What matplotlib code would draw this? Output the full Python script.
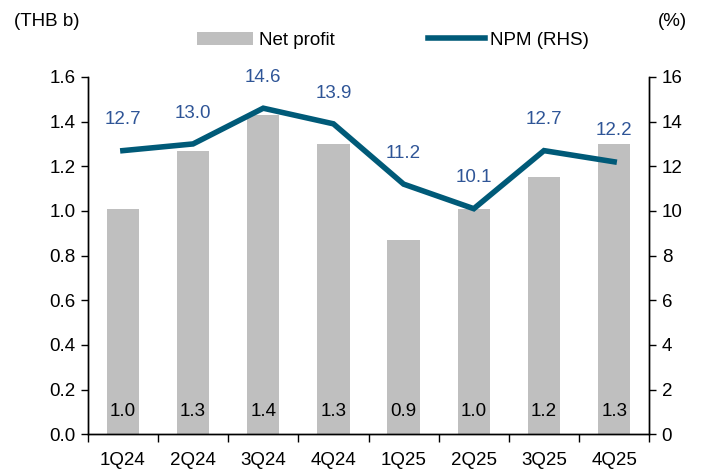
import numpy as np
import matplotlib
matplotlib.use("Agg")
from matplotlib import pyplot as plt
from matplotlib.patches import Patch
from matplotlib.lines import Line2D

quarters = ['1Q24', '2Q24', '3Q24', '4Q24', '1Q25', '2Q25', '3Q25', '4Q25']
net_profit = [1.01, 1.27, 1.43, 1.30, 0.87, 1.01, 1.15, 1.30]
profit_labels = ['1.0', '1.3', '1.4', '1.3', '0.9', '1.0', '1.2', '1.3']
npm = [12.7, 13.0, 14.6, 13.9, 11.2, 10.1, 12.7, 12.2]

BAR = '#BFBFBF'
LINE = '#005A78'
LBL = '#2F5597'

plt.rcParams['font.family'] = ['Liberation Sans', 'DejaVu Sans']
plt.rcParams['font.size'] = 13.5

fig = plt.figure(figsize=(7.08, 4.72), dpi=100)
ax = fig.add_axes([0.124, 0.080, 0.793, 0.757])
ax2 = ax.twinx()

x = np.arange(len(quarters))
ax.bar(x, net_profit, width=0.46, color=BAR, zorder=1)
for xi, lab in zip(x, profit_labels):
    ax.text(xi, 0.10, lab, ha='center', va='center', color='black')

ax2.plot(x, npm, color=LINE, lw=4, solid_joinstyle='miter', zorder=3)
for xi, v in zip(x, npm):
    ax2.text(xi, v + 1.0, f'{v:.1f}', ha='center', va='bottom', color=LBL)

ax.set_xlim(-0.5, len(quarters) - 0.5)
ax.set_ylim(0, 1.6)
yt = np.arange(0, 1.61, 0.2)
ax.set_yticks(yt)
ax.set_yticklabels([f'{t:.1f}' for t in yt])
ax2.set_ylim(0, 16)
ax2.set_yticks(np.arange(0, 17, 2))

ax.set_xticks(x)
ax.set_xticklabels(quarters)
ax.set_xticks(np.arange(-0.5, len(quarters)), minor=True)
ax.tick_params(axis='x', which='major', length=0, pad=13)
ax.tick_params(axis='x', which='minor', length=6, direction='out', width=1)
ax.tick_params(axis='y', length=5, direction='out', width=1, pad=4)
ax2.tick_params(axis='y', length=5, direction='out', width=1, pad=4)

for a in (ax, ax2):
    a.spines['top'].set_visible(False)
    for s in ('left', 'right', 'bottom'):
        a.spines[s].set_linewidth(1)

fig.text(0.020, 0.955, '(THB b)', ha='left', va='center')
fig.text(0.950, 0.955, '(%)', ha='center', va='center')

handles = [Patch(facecolor=BAR, edgecolor='none'),
           Line2D([0], [0], color=LINE, lw=4)]
fig.legend(handles, ['Net profit', 'NPM (RHS)'], loc='center',
           bbox_to_anchor=(0.555, 0.915), ncol=2, frameon=False,
           handlelength=3.0, handletextpad=0.3, columnspacing=5.0,
           borderpad=0)

fig.savefig('out.png', dpi=100)
